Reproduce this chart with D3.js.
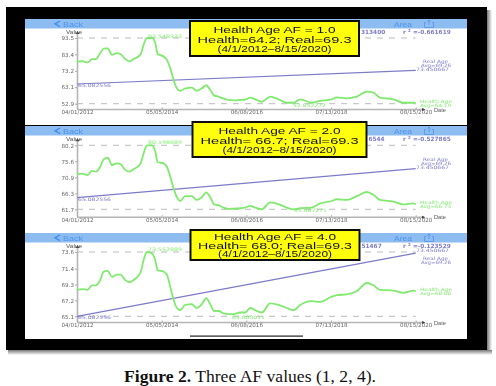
<!DOCTYPE html>
<html>
<head>
<meta charset="utf-8">
<script src="https://cdnjs.cloudflare.com/ajax/libs/d3/7.8.5/d3.min.js"></script>
<style>
  html, body { margin: 0; padding: 0; background: #fff; }
  svg { display: block; }
</style>
</head>
<body>
<svg id="chart" width="496" height="386"></svg>
<script>
// days since 04/01/2012, shared by all three panels
const dayOffsets = [0,45,96,135,171,210,241,277,316,361,391,436,472,511,571,607,631,677,707,728,782,812,842,872,902,932,977,1037,1082,1127,1167,1203,1239,1278,1323,1368,1413,1473,1518,1564,1609,1669,1744,1819,1894,1955,2015,2120,2195,2300,2345,2436,2526,2616,2676,2736,2857,2947,3037,3058];

const healthAf1 = [78.8,79.2,78.4,80.5,80.5,84.2,86.9,87.1,83.1,84.2,83.6,80.5,79.0,80.5,83.1,90.4,93.5,93.5,90.4,83.6,82.1,80.0,74.9,67.6,62.4,60.8,62.4,62.8,60.9,62.4,64.3,61.4,57.9,57.3,56.0,55.2,55.0,55.2,55.4,56.6,55.6,54.1,57.3,55.6,53.5,53.5,55.6,53.5,54.6,55.6,56.8,56.2,57.3,60.4,59.7,56.6,55.6,53.5,53.5,53.1];
const healthAf2 = [71.8,72.0,71.6,72.8,72.6,74.0,76.2,76.6,74.5,75.0,74.8,73.1,72.6,73.3,74.8,78.4,80.2,80.2,78.4,75.3,75.0,74.0,71.1,67.8,65.2,64.1,65.5,65.5,64.4,65.2,66.6,65.2,63.1,62.9,62.2,61.8,61.9,62.0,62.2,62.7,62.2,61.7,63.7,63.2,62.2,61.7,62.0,62.2,63.4,64.1,64.6,64.4,65.5,66.7,65.9,64.4,63.9,63.1,63.4,63.1];
const healthAf4 = [68.6,68.7,68.6,69.2,69.2,69.9,71.0,71.1,70.3,70.6,70.6,69.9,69.6,69.9,70.8,72.8,73.6,73.4,72.5,71.2,71.0,70.6,69.0,67.3,66.2,65.9,66.6,66.7,66.2,66.7,67.5,66.7,65.8,65.8,65.5,65.4,65.4,65.6,65.6,66.2,65.9,65.6,66.8,66.6,66.2,65.9,66.6,67.1,67.0,67.7,67.9,68.0,68.4,69.5,69.2,68.6,68.5,68.2,68.5,68.4];

const trendDays = [0, 3058];
const trendValues = [65.082556, 73.450667];

const xTickDays = [0, 764.5, 1529, 2293.5, 3058];
const xTickLabels = ["04/01/2012", "05/05/2014", "06/08/2016", "07/13/2018", "08/15/2020"];

const yTicksAf1 = [52.9, 63.1, 73.2, 83.4, 93.5];
const yTicksAf2 = [61.7, 66.3, 70.9, 75.6, 80.2];
const yTicksAf4 = [65.1, 67.2, 69.3, 71.4, 73.6];

const boxTitles = ["Health Age AF = 1.0", "Health Age AF = 2.0", "Health Age AF = 4.0"];
const boxHealth = ["Health=64.2;  Real=69.3", "Health= 66.7;  Real=69.3", "Health= 68.0;  Real=69.3"];
const boxRange = "(4/1/2012\u20138/15/2020)";

const green = "#7fea6e";
const purple = "#7d7bc9";

// pixel layout of each phone screenshot
const panels = [
  { top: 19, bottom: 125, y0: 103.7, y1: 38, axisY: 109, values: healthAf1, ticks: yTicksAf1, maxLabel: "93.548333", minLabel: "52.852272", minX: 293,
    avg: "Avg=64.19", r: "=-0.661619", cut: "313400", realY: 62.5, healthY: 103, trendLabelY: 71,
    box: [190, 21, 169, 35], boxText: [33, 43, 52], titleW: 122, healthW: 154, rangeW: 114 },
  { top: 126, bottom: 233, y0: 209.3, y1: 145.3, axisY: 216.7, values: healthAf2, ticks: yTicksAf2, maxLabel: "80.198689", minLabel: "61.687271", minX: 294,
    avg: "Avg=66.73", r: "=-0.527865", cut: "6544", realY: 160.5, healthY: 204, trendLabelY: 169,
    box: [192.5, 122, 174, 35], boxText: [134, 143.5, 152.5], titleW: 122, healthW: 158, rangeW: 114 },
  { top: 233, bottom: 339, y0: 316.3, y1: 252, axisY: 322, values: healthAf4, ticks: yTicksAf4, maxLabel: "73.552889", minLabel: "65.803011", minX: 232,
    avg: "Avg=68.00", r: "=-0.123529", cut: "51467", realY: 260, healthY: 291, trendLabelY: 252,
    box: [190.5, 230, 169, 30], boxText: [240, 248.5, 257], titleW: 122, healthW: 154, rangeW: 114 }
];

const svg = d3.select("#chart");

svg.append("defs").html(`
  <filter id="soft" x="-2%" y="-2%" width="104%" height="104%">
    <feGaussianBlur stdDeviation="0.45"/>
  </filter>
  <filter id="softer" x="-2%" y="-5%" width="104%" height="110%">
    <feGaussianBlur stdDeviation="0.25"/>
  </filter>
  <linearGradient id="shadeR" x1="0" x2="1" y1="0" y2="0">
    <stop offset="0" stop-color="#777"/><stop offset="1" stop-color="#fff"/>
  </linearGradient>
  <linearGradient id="shadeB" x1="0" x2="0" y1="0" y2="1">
    <stop offset="0" stop-color="#777"/><stop offset="1" stop-color="#fff"/>
  </linearGradient>
`);

// frame with its drop shadow
svg.append("rect").attr("x", 487).attr("y", 10).attr("width", 5).attr("height", 345).attr("fill", "url(#shadeR)");
svg.append("rect").attr("x", 8).attr("y", 350).attr("width", 484).attr("height", 5).attr("fill", "url(#shadeB)");
svg.append("rect").attr("x", 6).attr("y", 7).attr("width", 481).attr("height", 343).attr("fill", "#000");

const x = d3.scaleLinear().domain([0, 3058]).range([77, 415.7]);

panels.forEach(p => {
  const y = d3.scaleLinear().domain([p.ticks[0], p.ticks[4]]).range([p.y0, p.y1]);
  const g = svg.append("g").attr("filter", "url(#soft)");

  g.append("rect").attr("x", 25).attr("y", p.top).attr("width", 442).attr("height", p.bottom - p.top).attr("fill", "#fff");
  g.append("rect").attr("x", 25).attr("y", p.top).attr("width", 442).attr("height", 9.5).attr("fill", "#8dbcf1");

  // header
  g.append("path").attr("d", `M60 ${p.top + 2} l-5 2.8 l5 2.8`).attr("fill", "none").attr("stroke", "#3f8df0").attr("stroke-width", 1.4);
  g.append("text").attr("x", 63).attr("y", p.top + 7.5).attr("font-size", 7).attr("fill", "#4f94ea").attr("textLength", 20).attr("lengthAdjust", "spacingAndGlyphs").text("Back");
  g.append("text").attr("x", 394).attr("y", p.top + 7.5).attr("font-size", 7).attr("fill", "#4f94ea").attr("textLength", 18).attr("lengthAdjust", "spacingAndGlyphs").text("Area");
  g.append("path").attr("d", `M426 ${p.top + 3.5} h-1.5 v5 h9 v-5 h-1.5 M429 ${p.top + 6} v-5 m-1.5 1.5 l1.5 -1.5 l1.5 1.5`)
    .attr("fill", "none").attr("stroke", "#4f94ea").attr("stroke-width", 0.8);

  // min and max guides
  p.ticks.filter((t, i) => i === 0 || i === 4).forEach(t => {
    g.append("line").attr("x1", 77).attr("x2", 415.7).attr("y1", y(t)).attr("y2", y(t))
      .attr("stroke", "#aaa").attr("stroke-width", 0.8).attr("stroke-dasharray", "6,6");
  });

  // axes
  const yAxis = g.append("g").attr("transform", "translate(77,0)")
    .call(d3.axisLeft(y).tickValues(p.ticks).tickFormat(d3.format(".1f")).tickSize(2).tickPadding(1));
  yAxis.select(".domain").attr("d", `M0.5,${p.axisY}V${p.y1 - 5}`);
  yAxis.append("path").attr("d", `M-1.5 ${p.y1 - 4} L0.5 ${p.y1 - 7} L2.5 ${p.y1 - 4}Z`).attr("fill", "#444");

  const xAxis = g.append("g").attr("transform", `translate(0,${p.axisY})`)
    .call(d3.axisBottom(x).tickValues(xTickDays).tickFormat((d, i) => xTickLabels[i]).tickSize(-1.5).tickPadding(1.5));
  xAxis.select(".domain").attr("d", "M77,0.5H424");
  xAxis.append("path").attr("d", "M422 -1 L425.5 0.5 L422 2Z").attr("fill", "#444");

  [yAxis, xAxis].forEach(a => {
    a.selectAll(".domain").attr("stroke", "#b5b5b5").attr("stroke-width", 1.6);
    a.selectAll("line").attr("stroke", "#aaa");
    a.selectAll("text").attr("font-family", "DejaVu Sans").attr("font-size", 5.6).attr("fill", "#666");
  });

  g.append("text").attr("x", 66).attr("y", p.y1 - 4.5).attr("font-size", 5.4).attr("fill", "#555").attr("textLength", 16).attr("lengthAdjust", "spacingAndGlyphs").text("Value");
  g.append("text").attr("x", 434).attr("y", p.axisY + 2.5).attr("font-size", 5.8).attr("fill", "#555").attr("textLength", 12).attr("lengthAdjust", "spacingAndGlyphs").text("Date");

  // trend
  const trendLine = d3.line().x((d, i) => x(trendDays[i])).y(d => y(d));
  g.append("path").datum(p === panels[2] ? [p.ticks[0], trendValues[1]] : trendValues)
    .attr("d", trendLine).attr("fill", "none").attr("stroke", purple).attr("stroke-width", 1.2);

  // health series
  const line = d3.line().x((d, i) => x(dayOffsets[i])).y(d => y(d)).curve(d3.curveMonotoneX);
  g.append("path").datum(p.values).attr("d", line).attr("fill", "none").attr("stroke", green).attr("stroke-width", 1.8);

  // value labels
  const small = (tx, ty, s, c, w) => g.append("text").attr("x", tx).attr("y", ty).attr("font-family", "DejaVu Sans")
    .attr("font-size", 4.6).attr("fill", c).attr("textLength", w).attr("lengthAdjust", "spacingAndGlyphs").text(s);

  small(148, p.y1 + (p === panels[0] ? -0.5 : -1.5), p.maxLabel, green, 34);
  small(p.minX, p.y0 + 3, p.minLabel, green, 33);
  small(78, y(trendValues[0]) + 3, "65.082556", purple, 33);

  small(423, p.realY, "Real Age", purple, 25);
  small(421, p.realY + 4, "Avg=69.26", purple, 30);
  small(416, p.trendLabelY, "73.450667", purple, 33);
  small(420, p.healthY, "Health Age", green, 32);
  small(420, p.healthY + 4, p.avg, green, 31);

  // r square readout, partly under the yellow box
  const rowY = p.top + 14.5;
  g.append("text").attr("x", p.box[0] + p.box[2] + 2).attr("y", rowY).attr("font-family", "DejaVu Sans")
    .attr("font-size", 5.8).attr("font-weight", "bold").attr("fill", purple).text(p.cut);
  g.append("text").attr("x", 403).attr("y", rowY).attr("font-family", "DejaVu Sans")
    .attr("font-size", 5.8).attr("font-weight", "bold").attr("fill", purple).text("r");
  g.append("text").attr("x", 408).attr("y", rowY - 2).attr("font-family", "DejaVu Sans")
    .attr("font-size", 4).attr("font-weight", "bold").attr("fill", purple).text("2");
  g.append("text").attr("x", 413).attr("y", rowY).attr("font-family", "DejaVu Sans")
    .attr("font-size", 5.8).attr("font-weight", "bold").attr("fill", purple).text(p.r);
});

// thin black rule at the foot of the last panel
svg.append("rect").attr("x", 190).attr("y", 335.5).attr("width", 113).attr("height", 1.2).attr("fill", "#222");

// yellow call-outs
panels.forEach((p, i) => {
  const g = svg.append("g").attr("filter", "url(#softer)");
  g.append("rect").attr("x", p.box[0]).attr("y", p.box[1]).attr("width", p.box[2]).attr("height", p.box[3])
    .attr("fill", "#ffff0a").attr("stroke", "#111").attr("stroke-width", 2);
  const cx = p.box[0] + p.box[2] / 2;
  [[boxTitles[i], p.titleW], [boxHealth[i], p.healthW], [boxRange, p.rangeW]].forEach((row, j) => {
    g.append("text").attr("x", cx).attr("y", p.boxText[j]).attr("text-anchor", "middle")
      .attr("font-family", "Liberation Sans").attr("font-size", 9).attr("fill", "#111")
      .attr("textLength", row[1]).attr("lengthAdjust", "spacingAndGlyphs").text(row[0]);
  });
});

// caption
const caption = svg.append("text").attr("x", 124).attr("y", 381.5)
  .attr("font-family", "Liberation Serif").attr("font-size", 17.6).attr("fill", "#111");
caption.append("tspan").attr("font-weight", "bold").text("Figure 2.");
caption.append("tspan").text(" Three AF values (1, 2, 4).");

svg.selectAll("text").filter(function () { return !this.getAttribute("font-family"); })
  .attr("font-family", "Liberation Sans");
</script>
</body>
</html>
